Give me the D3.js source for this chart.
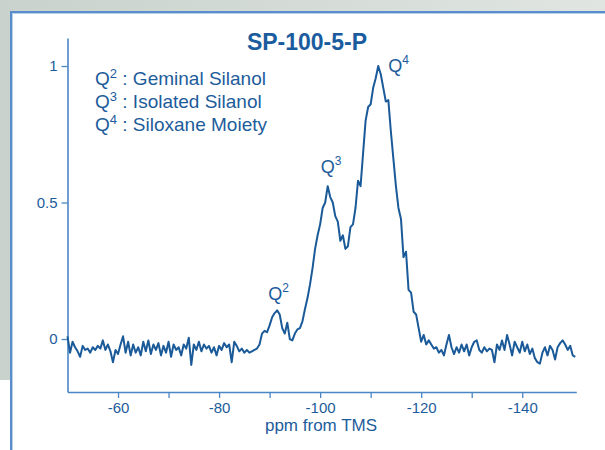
<!DOCTYPE html>
<html>
<head>
<meta charset="utf-8">
<script src="https://cdn.jsdelivr.net/npm/d3@7"></script>
<style>
  html, body { margin: 0; padding: 0; background: #fff; }
  svg { display: block; }
  text { font-family: "Liberation Sans", Arial, Helvetica, sans-serif; }
</style>
</head>
<body>
<svg id="chart" width="605" height="450"></svg>
<script>
// 29Si NMR spectrum, sampled every 0.5 ppm from -50 ppm downfield to -150.5 ppm
const ppmStart = -50;
const ppmStep = -0.5;
const intensity = [
  0.01, -0.05, -0.01, -0.03, -0.045, -0.065, -0.025, -0.04, -0.035, -0.05,
  -0.03, -0.04, -0.025, -0.035, -0.005, -0.04, -0.02, -0.045, -0.085, -0.04,
  -0.055, -0.02, 0.01, -0.05, -0.01, -0.06, -0.02, -0.05, -0.03, -0.06,
  -0.01, -0.045, -0.005, -0.055, -0.02, -0.04, -0.015, -0.06, -0.025, -0.05,
  -0.01, -0.065, -0.02, -0.04, -0.03, -0.06, -0.02, -0.035, 0.005, -0.095,
  -0.02, -0.04, -0.01, -0.045, -0.02, -0.035, -0.025, -0.05, -0.03, -0.06,
  -0.025, -0.04, -0.015, -0.03, -0.02, -0.085, -0.01, -0.025, -0.045, -0.035,
  -0.05, -0.04, -0.05, -0.045, -0.04, -0.035, -0.02, 0.02, 0.03, 0.025,
  0.05, 0.08, 0.095, 0.105, 0.09, 0.04, 0.02, 0.06, 0.0, -0.005,
  0.02, 0.035, 0.04, 0.065, 0.11, 0.15, 0.2, 0.26, 0.33, 0.38,
  0.42, 0.48, 0.5, 0.56, 0.52, 0.5, 0.45, 0.43, 0.36, 0.38,
  0.33, 0.34, 0.41, 0.42, 0.48, 0.58, 0.56, 0.68, 0.8, 0.85,
  0.86, 0.92, 0.955, 1.0, 0.97, 0.92, 0.87, 0.875, 0.76, 0.66,
  0.56, 0.48, 0.44, 0.3, 0.32, 0.18, 0.17, 0.1, 0.09, 0.04,
  -0.01, 0.015, -0.02, -0.005, -0.02, -0.035, -0.03, -0.05, -0.04, -0.06,
  -0.02, 0.015, -0.03, -0.055, -0.03, -0.05, -0.02, -0.045, -0.02, -0.06,
  -0.03, -0.01, -0.005, -0.04, -0.05, -0.03, -0.045, -0.035, -0.04, -0.085,
  -0.02, -0.04, -0.005, -0.04, 0.015, -0.02, -0.06, -0.01, -0.03, -0.05,
  -0.01, -0.045, -0.02, -0.055, -0.035, -0.07, -0.085, -0.09, -0.05, -0.03,
  -0.06, -0.025, -0.04, -0.075, -0.03, -0.015, -0.005, -0.02, -0.04, -0.025,
  -0.06, -0.065
];

const xTicks = [-60, -70, -80, -90, -100, -110, -120, -130, -140];
const xTickLabels = ["-60", "", "-80", "", "-100", "", "-120", "", "-140"];
const yTicks = [0, 0.5, 1];
const yTickLabels = ["0", "0.5", "1"];

const title = "SP-100-5-P";
const xTitle = "ppm from TMS";
const legendItems = [
  { sup: "2", text: " : Geminal Silanol" },
  { sup: "3", text: " : Isolated Silanol" },
  { sup: "4", text: " : Siloxane Moiety" }
];
const peakLabels = [
  { sup: "2", ppm: -91.5 },
  { sup: "3", ppm: -101.5 },
  { sup: "4", ppm: -111.5 }
];

const points = intensity.map((v, i) => ({ ppm: ppmStart + i * ppmStep, v }));

const ink = "#1d5c9b";
const axisInk = "#4a86c4";

const svg = d3.select("#chart");

// page backdrop: grey frame around a white panel
const defs = svg.append("defs");
const grad = defs.append("linearGradient").attr("id", "bandGrad")
  .attr("x1", "0").attr("x2", "1").attr("y1", "0").attr("y2", "0");
grad.append("stop").attr("offset", "0").attr("stop-color", "#c9d2cc");
grad.append("stop").attr("offset", "1").attr("stop-color", "#e0e5e2");

svg.append("rect").attr("x", 0).attr("y", 0).attr("width", 605).attr("height", 12)
  .attr("fill", "url(#bandGrad)");
svg.append("rect").attr("x", 0).attr("y", 0).attr("width", 11).attr("height", 380)
  .attr("fill", "#c9d2cc");
svg.append("rect").attr("x", 11).attr("y", 12).attr("width", 620).attr("height", 460)
  .attr("fill", "#ffffff").attr("stroke", "#5a8ecb").attr("stroke-width", 2);
svg.append("rect").attr("x", 12.5).attr("y", 13.5).attr("width", 620).attr("height", 460)
  .attr("fill", "none").attr("stroke", "#b9d0ec").attr("stroke-width", 1);

const x = d3.scaleLinear().domain([-50, -150.7]).range([67.5, 576.3]);
const y = d3.scaleLinear().domain([-0.194, 1.1026]).range([392, 38]);

// axes
const xAxis = d3.axisBottom(x)
  .tickValues(xTicks)
  .tickFormat((d, i) => xTickLabels[i])
  .tickSize(6).tickPadding(4).tickSizeOuter(0);
const gx = svg.append("g").attr("transform", "translate(0,392)").call(xAxis);

const yAxis = d3.axisLeft(y)
  .tickValues(yTicks)
  .tickFormat((d, i) => yTickLabels[i])
  .tickSize(6).tickPadding(4).tickSizeOuter(0);
const gy = svg.append("g").attr("transform", "translate(67.5,0)").call(yAxis);

[gx, gy].forEach(g => {
  g.select(".domain").attr("stroke", axisInk).attr("stroke-width", 1.6);
  g.selectAll(".tick line").attr("stroke", axisInk).attr("stroke-width", 1.3);
  g.selectAll(".tick text").attr("fill", ink).attr("font-size", 15)
    .attr("font-family", "'Liberation Sans', Arial, sans-serif");
});

// spectrum trace
const line = d3.line().x(d => x(d.ppm)).y(d => y(d.v));
svg.append("path").datum(points)
  .attr("d", line)
  .attr("fill", "none")
  .attr("stroke", "#1b5a98")
  .attr("stroke-width", 2)
  .attr("stroke-linejoin", "round");

// title and axis title
svg.append("text").attr("x", 307).attr("y", 50)
  .attr("text-anchor", "middle").attr("font-size", 23).attr("font-weight", "bold")
  .attr("fill", "#1a5c9e").text(title);

svg.append("text").attr("x", 321).attr("y", 431)
  .attr("text-anchor", "middle").attr("font-size", 17)
  .attr("fill", ink).text(xTitle);

// legend of silicon environments
const legend = svg.append("g");
legendItems.forEach((item, i) => {
  const t = legend.append("text").attr("x", 95).attr("y", 85 + i * 23)
    .attr("font-size", 19).attr("fill", ink);
  t.append("tspan").text("Q");
  t.append("tspan").attr("font-size", 13).attr("dy", -7).text(item.sup);
  t.append("tspan").attr("dy", 7).text(item.text);
});

// peak annotations sit just above each local maximum
const peakOffsets = { "2": [-9, -10], "3": [-7, -13], "4": [10, 6] };
peakLabels.forEach(p => {
  const idx = d3.minIndex(points, d => Math.abs(d.ppm - p.ppm));
  const pt = points[idx];
  const off = peakOffsets[p.sup];
  const t = svg.append("text")
    .attr("x", x(pt.ppm) + off[0]).attr("y", y(pt.v) + off[1])
    .attr("font-size", 18).attr("fill", ink);
  t.append("tspan").text("Q");
  t.append("tspan").attr("font-size", 12).attr("dy", -8).text(p.sup);
});
</script>
</body>
</html>
